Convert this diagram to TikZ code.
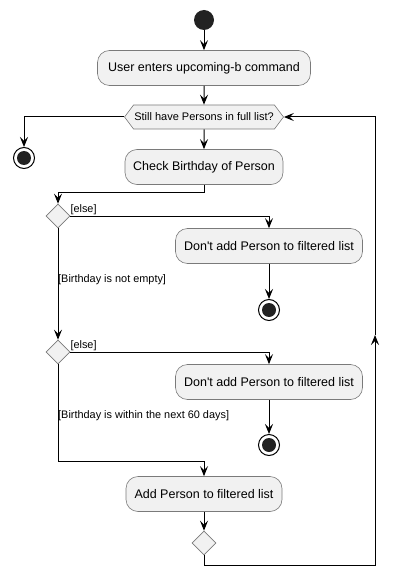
\documentclass[tikz,border=0pt]{standalone}
\usepackage{fontspec}
\setmainfont{Liberation Sans}
\usetikzlibrary{arrows.meta,shapes.geometric,shapes.symbols}

\definecolor{boxfill}{HTML}{F1F1F1}
\definecolor{dotfill}{HTML}{222222}
\definecolor{rim}{HTML}{7A7A7A}

\tikzset{
  action/.style={rectangle, rounded corners=12pt, draw=rim, line width=0.6pt,
    fill=boxfill, minimum height=35pt, inner sep=0pt,
    font=\fontsize{12.5}{14}\selectfont},
  choice/.style={diamond, draw=rim, line width=0.6pt, fill=boxfill,
    minimum width=24pt, minimum height=24pt, inner sep=0pt},
  loopsign/.style={signal, signal to=west and east, signal pointer angle=106,
    draw=rim, line width=0.6pt, fill=boxfill, minimum width=159pt,
    minimum height=24pt, inner sep=0pt, font=\fontsize{11}{13}\selectfont},
  guard/.style={font=\fontsize{10.9}{12}\selectfont, inner sep=1pt},
  flow/.style={line width=1pt, -{Stealth[length=10pt,width=8pt,inset=4pt]}},
  plain/.style={line width=1pt},
  startdot/.style={circle, fill=dotfill, minimum size=20pt, inner sep=0pt},
  enddot/.style={circle, draw=black, line width=1pt, fill=white,
    minimum size=21pt, inner sep=0pt,
    path picture={\fill[dotfill] (path picture bounding box.center) circle (7pt);}},
}

\begin{document}
\begin{tikzpicture}[x=1pt,y=-1pt]
    \useasboundingbox (0,0) rectangle (400,588);
    %nodes
    \node[startdot] (start) at (204,20) {};
    \node[action, minimum width=213pt] (enter) at (204,68) {User enters upcoming-b command};
    \node[loopsign] (still) at (204,117) {Still have Persons in full list?};
    \node[enddot] (stop0) at (24,158) {};
    \node[action, minimum width=158pt] (check) at (204,167) {Check Birthday of Person};
    \node[choice] (dec1) at (58,216) {};
    \node[action, minimum width=187pt] (skip1) at (269,246) {Don\textquotesingle t add Person to filtered list};
    \node[enddot] (stop1) at (269,310) {};
    \node[choice] (dec2) at (58,352) {};
    \node[action, minimum width=187pt] (skip2) at (269,382) {Don\textquotesingle t add Person to filtered list};
    \node[enddot] (stop2) at (269,445) {};
    \node[action, minimum width=156pt] (add) at (204,494) {Add Person to filtered list};
    \node[choice] (merge) at (204,543) {};
    \coordinate (join) at (58,461);
    \coordinate (back low) at (375,565);
    \coordinate (back mid) at (375,335);
    \coordinate (back top) at (375,117);

    %connectors
    \draw[flow] (start) -- (enter);
    \draw[flow] (enter) -- (still);
    \draw[flow] (still.west) -| (stop0);
    \draw[flow] (still) -- (check);
    \draw[flow] (check.south) -- ++(0,8) -| (dec1.north);
    \draw[flow] (dec1.east) -| (skip1.north);
    \draw[flow] (skip1) -- (stop1);
    \draw[flow] (dec1) -- (dec2);
    \draw[flow] (dec2.east) -| (skip2.north);
    \draw[flow] (skip2) -- (stop2);
    \draw[plain] (dec2) -- (join);
    \draw[flow] (join) -| (add.north);
    \draw[flow] (add) -- (merge);
    \draw[flow] (merge.south) |- (back low) -- (back mid);
    \draw[flow] (back mid) -- (back top) -- (still.east);

    %labels
    \node[guard, anchor=south west] at ([xshift=-1pt]dec1.east) {[else]};
    \node[guard, anchor=south west] at ([xshift=-1pt]dec2.east) {[else]};
    \node[guard, anchor=west] at (57,280) {[Birthday is not empty]};
    \node[guard, anchor=west] at (57,416) {[Birthday is within the next 60 days]};
\end{tikzpicture}
\end{document}
